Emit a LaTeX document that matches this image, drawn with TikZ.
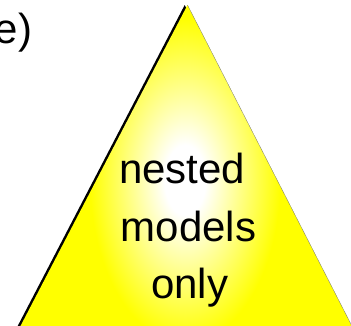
\documentclass[tikz,border=0pt]{standalone}
\usepackage{fontspec}
\setmainfont{Liberation Sans}
\definecolor{yel}{RGB}{255,255,0}
\definecolor{wht}{RGB}{255,255,255}
\definecolor{pale}{RGB}{255,255,150}
\pgfdeclareradialshading{glow}{\pgfpoint{0bp}{0bp}}{color(0bp)=(wht); color(3bp)=(wht); color(7.5bp)=(pale); color(14bp)=(yel); color(50bp)=(yel)}
\tikzset{
  bigtext/.style={inner sep=0pt, font=\fontsize{42}{50}\selectfont, text=black},
}
\begin{document}
\begin{tikzpicture}[x=1pt,y=-1pt]
\useasboundingbox (0,0) rectangle (351,325);
\clip (0,0) rectangle (351,325);
% triangle corners
\coordinate (apex) at (187.5,5);
\coordinate (bl) at (15.8,335);
\coordinate (br) at (356.5,335);
% shadow
\fill[black] ([xshift=-2.8pt]apex) -- ([xshift=-2.8pt]bl) -- ([xshift=-2.8pt]br) -- cycle;
% gradient body
\begin{scope}
  \clip (apex) -- (bl) -- (br) -- cycle;
  \shade[shading=glow] (15,-110) rectangle (355,470);
\end{scope}
\draw[black!55, line width=0.3pt] (apex) -- (br);
% texts
\node[bigtext, anchor=base east] (lbl) at (32.5,43) {e)};
\node[bigtext, anchor=base west] (t1) at (119,183) {nested};
\node[bigtext, anchor=base west] (t2) at (120.5,241) {models};
\node[bigtext, anchor=base west] (t3) at (151,298) {only};
\end{tikzpicture}
\end{document}
